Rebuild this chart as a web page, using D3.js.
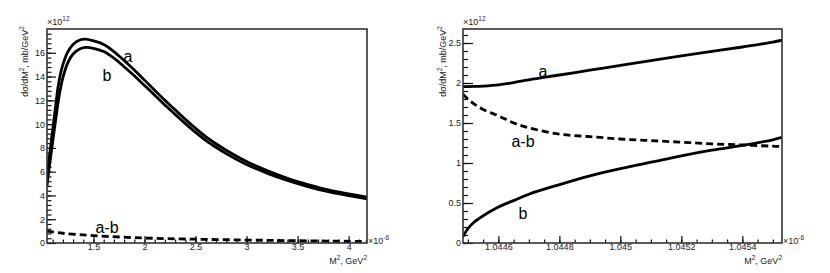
<!DOCTYPE html>
<html>
<head>
<meta charset="utf-8">
<script src="https://cdn.jsdelivr.net/npm/d3@7"></script>
<style>
  body { margin: 0; background: #fff; }
  svg { display: block; font-family: "Liberation Sans", Arial, sans-serif; }
  .tick text { font-size: 9px; fill: #222; }
  .domain { display: none; }
</style>
</head>
<body>
<svg width="830" height="273"></svg>
<script>
// left panel: full range, x in units of 1e-6 GeV^2, y in units of 1e12 mb/GeV^2
const leftX = [1.0445, 1.07, 1.1, 1.13, 1.16, 1.2, 1.25, 1.3, 1.36, 1.42, 1.5, 1.6, 1.7, 1.8, 1.9, 2.0,
  2.1, 2.2, 2.3, 2.4, 2.5, 2.6, 2.7, 2.8, 3.0, 3.2, 3.4, 3.6, 3.8, 4.0, 4.18];
const leftA = [5.4, 7.4, 9.5, 11.6, 13.5, 15.0, 16.1, 16.7, 17.05, 17.14, 17.0, 16.7, 16.1, 15.35, 14.55, 13.7,
  12.85, 12.0, 11.2, 10.4, 9.65, 8.95, 8.35, 7.8, 6.85, 6.1, 5.45, 4.92, 4.47, 4.13, 3.85];
const leftB = [4.8, 6.6, 8.5, 10.4, 12.2, 13.9, 15.2, 15.9, 16.3, 16.45, 16.38, 16.1, 15.55, 14.83, 14.07, 13.25,
  12.43, 11.6, 10.82, 10.04, 9.31, 8.63, 8.05, 7.52, 6.6, 5.88, 5.26, 4.75, 4.32, 3.99, 3.72];
const leftDiffX = [1.0445, 1.2, 1.5, 2.0, 2.5, 3.0, 3.5, 4.18];
const leftDiff = [1.0, 0.82, 0.62, 0.42, 0.32, 0.25, 0.19, 0.13];

// right panel: zoom on the threshold
const rightX = [1.044484, 1.0445, 1.04452, 1.04455, 1.0446, 1.04465, 1.0447, 1.0448, 1.0449, 1.045,
  1.0451, 1.0452, 1.0453, 1.0454, 1.0455, 1.04553];
const rightA = [1.955, 1.955, 1.957, 1.962, 1.977, 2.005, 2.04, 2.1, 2.16, 2.22, 2.28, 2.34, 2.395, 2.45, 2.51, 2.535];
const rightB = [0.08, 0.18, 0.26, 0.34, 0.45, 0.53, 0.61, 0.73, 0.84, 0.93, 1.01, 1.09, 1.16, 1.22, 1.29, 1.32];
const rightDiff = [1.86, 1.8, 1.74, 1.67, 1.59, 1.5, 1.44, 1.36, 1.33, 1.3, 1.28, 1.26, 1.24, 1.225, 1.21, 1.205];

const leftXTicks = [1.5, 2, 2.5, 3, 3.5, 4];
const leftYTicks = [0, 2, 4, 6, 8, 10, 12, 14, 16];
const rightXTicks = [1.0446, 1.0448, 1.045, 1.0452, 1.0454];
const rightYTicks = [0, 0.5, 1, 1.5, 2, 2.5];

const svg = d3.select("svg");

function supText(sel, parts) {
  // parts: [text, isSuperscript]
  parts.forEach(([t, sup], i) => {
    const prevSup = i > 0 && parts[i - 1][1];
    sel.append("tspan")
      .attr("font-size", sup ? 6.5 : null)
      .attr("dy", sup ? -4 : prevSup ? 4 : null)
      .text(t);
  });
}

function drawPanel(opt) {
  const { x0, x1, y0, y1 } = opt.box;
  const x = d3.scaleLinear().domain(opt.xDomain).range([x0, x1]);
  const y = d3.scaleLinear().domain(opt.yDomain).range([y1, y0]);
  const g = svg.append("g");

  // minor ticks
  g.append("g")
    .attr("transform", `translate(0,${y1})`)
    .call(d3.axisBottom(x).tickValues(opt.xMinor).tickSize(-3.5).tickFormat(""));
  g.append("g")
    .attr("transform", `translate(${x0},0)`)
    .call(d3.axisLeft(y).tickValues(opt.yMinor).tickSize(-opt.yTick / 2).tickFormat(""));

  // major ticks
  g.append("g")
    .attr("transform", `translate(0,${y1})`)
    .call(d3.axisBottom(x).tickValues(opt.xTicks).tickSize(-7).tickPadding(1).tickFormat(opt.xFormat));
  g.append("g")
    .attr("transform", `translate(${x0},0)`)
    .call(d3.axisLeft(y).tickValues(opt.yTicks).tickSize(-opt.yTick).tickPadding(2).tickFormat(opt.yFormat));

  g.selectAll(".tick line").attr("stroke", "#111").attr("stroke-width", 1.2);

  const line = d3.line()
    .x((d) => x(d[0]))
    .y((d) => y(d[1]))
    .curve(d3.curveCatmullRom.alpha(0.5));

  const clip = "clip" + opt.id;
  g.append("clipPath").attr("id", clip)
    .append("rect").attr("x", x0).attr("y", y0).attr("width", x1 - x0).attr("height", y1 - y0);

  const curves = g.append("g").attr("clip-path", `url(#${clip})`);
  opt.series.forEach((s) => {
    curves.append("path")
      .datum(d3.zip(s.x, s.y))
      .attr("fill", "none")
      .attr("stroke", "#000")
      .attr("stroke-width", 2.8)
      .attr("stroke-dasharray", s.dashed ? "7,4" : null)
      .attr("d", line);
  });

  // frame
  g.append("rect")
    .attr("x", x0).attr("y", y0)
    .attr("width", x1 - x0).attr("height", y1 - y0)
    .attr("fill", "none").attr("stroke", "#333").attr("stroke-width", 1.6);

  // curve labels
  opt.labels.forEach((l) => {
    g.append("text")
      .attr("x", l.x).attr("y", l.y)
      .attr("text-anchor", "middle")
      .attr("font-size", 16)
      .attr("fill", "#000")
      .text(l.text);
  });

  // exponent labels
  const e12 = g.append("text").attr("x", x0).attr("y", y0 - 4).attr("font-size", 9).attr("fill", "#222");
  supText(e12, [["\u00d710", false], ["12", true]]);
  const e6 = g.append("text").attr("x", x1 + 1).attr("y", y1 + 1).attr("font-size", 9).attr("fill", "#222");
  supText(e6, [["\u00d710", false], ["-6", true]]);

  // axis titles
  const xt = g.append("text").attr("x", x1).attr("y", y1 + 21)
    .attr("text-anchor", "end").attr("font-size", 9).attr("fill", "#222");
  supText(xt, [["M", false], ["2", true], [", GeV", false], ["2", true]]);

  const yt = g.append("text")
    .attr("transform", `translate(${opt.yTitleX},${y0 - 3}) rotate(-90)`)
    .attr("text-anchor", "end").attr("font-size", 9).attr("fill", "#222");
  supText(yt, [["d\u03c3/dM", false], ["2", true], [", mb/GeV", false], ["2", true]]);
}

const trim = (v) => String(+v.toFixed(4));

drawPanel({
  id: "L",
  box: { x0: 47, x1: 367, y0: 29, y1: 243 },
  xDomain: [1.0445, 4.18],
  yDomain: [0, 18],
  xTicks: leftXTicks,
  xMinor: d3.range(1.1, 4.18, 0.1),
  yTicks: leftYTicks,
  yMinor: d3.range(0, 18, 0.4),
  yTick: 9,
  xFormat: (d) => trim(d),
  yFormat: (d) => d,
  yTitleX: 28,
  series: [
    { x: leftX, y: leftA },
    { x: leftX, y: leftB },
    { x: leftDiffX, y: leftDiff, dashed: true },
  ],
  labels: [
    { text: "a", x: 128, y: 62 },
    { text: "b", x: 107, y: 81 },
    { text: "a-b", x: 107, y: 233 },
  ],
});

drawPanel({
  id: "R",
  box: { x0: 463, x1: 782, y0: 29, y1: 243 },
  xDomain: [1.044484, 1.04553],
  yDomain: [0, 2.675],
  xTicks: rightXTicks,
  xMinor: d3.range(1.0445, 1.04553, 0.00005),
  yTicks: rightYTicks,
  yMinor: d3.range(0, 2.675, 0.1),
  yTick: 10,
  xFormat: (d) => trim(d),
  yFormat: (d) => trim(d),
  yTitleX: 446,
  series: [
    { x: rightX, y: rightA },
    { x: rightX, y: rightB },
    { x: rightX, y: rightDiff, dashed: true },
  ],
  labels: [
    { text: "a", x: 543, y: 77 },
    { text: "b", x: 523, y: 219 },
    { text: "a-b", x: 523, y: 147 },
  ],
});
</script>
</body>
</html>
